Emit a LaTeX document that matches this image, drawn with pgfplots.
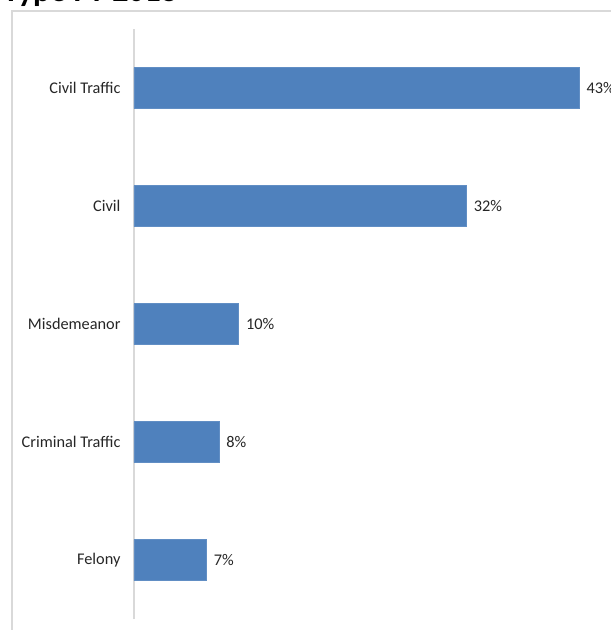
\documentclass[border=0pt]{standalone}
\usepackage{pgfplots}
\pgfplotsset{compat=1.18}
\usepackage{fontspec}
\setmainfont{Carlito}
\definecolor{barblue}{HTML}{4F81BD}
\definecolor{txt}{HTML}{262626}
\definecolor{frame}{HTML}{D9D9D9}

\begin{document}
\begin{tikzpicture}
  \useasboundingbox (0,0) rectangle (611pt,-630pt);
  % chart frame, runs off the page on the right and bottom
  \draw[frame, line width=1.2pt] (12pt,-700pt) -- (12pt,-11pt) -- (700pt,-11pt);
  \node[anchor=base west, inner sep=0pt, font=\fontsize{32}{34}\selectfont\bfseries]
    at (3pt,-1pt) {Type FY 2018};
  \begin{axis}[
      scale only axis,
      anchor=south west,
      at={(134pt,-619pt)},
      width=517.5pt,
      height=590pt,
      xbar,
      bar width=41pt,
      xmin=0, xmax=50,
      ymin=-0.5, ymax=4.5,
      axis x line=none,
      axis y line*=left,
      y axis line style={frame, line width=1.2pt, -},
      ytick=data,
      yticklabels={Felony, Criminal Traffic, Misdemeanor, Civil, Civil Traffic},
      major tick length=0pt,
      yticklabel style={anchor=east, xshift=-10pt, text=txt,
        font=\fontsize{16.3}{18}\selectfont},
      /pgf/number format/assume math mode=true,
      nodes near coords={\pgfmathprintnumber[fixed,precision=0]{\pgfplotspointmeta}\%},
      nodes near coords align=horizontal,
      every node near coord/.append style={anchor=west, xshift=4pt, text=txt,
        font=\fontsize{16.3}{18}\selectfont},
    ]
    \addplot[fill=barblue, draw=barblue!90!white] table [x=v, y=k] {
      k v
      0 7.0
      1 8.2
      2 10.1
      3 32.1
      4 43.0
    };
  \end{axis}
\end{tikzpicture}
\end{document}
